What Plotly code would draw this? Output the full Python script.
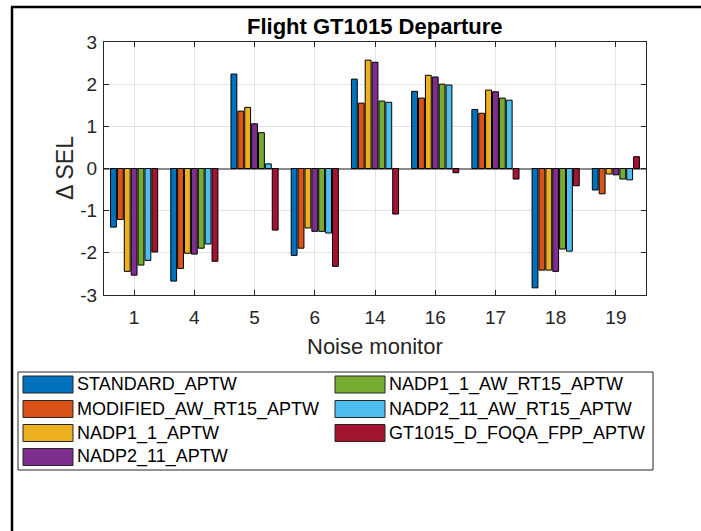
import plotly.graph_objects as go

# ---------------- data ----------------
monitors = ["1", "4", "5", "6", "14", "16", "17", "18", "19"]

series_names = [
    "STANDARD_APTW",
    "MODIFIED_AW_RT15_APTW",
    "NADP1_1_APTW",
    "NADP2_11_APTW",
    "NADP1_1_AW_RT15_APTW",
    "NADP2_11_AW_RT15_APTW",
    "GT1015_D_FOQA_FPP_APTW",
]
series_colors = ["#0072BD", "#D95319", "#EDB120", "#7E2F8E", "#77AC30", "#4DBEEE", "#A2142F"]

standard_aptw = [-1.39, -2.67, 2.24, -2.06, 2.12, 1.83, 1.40, -2.83, -0.51]
modified_aw_rt15_aptw = [-1.21, -2.37, 1.36, -1.89, 1.55, 1.67, 1.31, -2.41, -0.60]
nadp1_1_aptw = [-2.44, -2.01, 1.45, -1.41, 2.57, 2.21, 1.86, -2.41, -0.13]
nadp2_11_aptw = [-2.53, -2.03, 1.06, -1.49, 2.52, 2.17, 1.82, -2.44, -0.15]
nadp1_1_aw_rt15_aptw = [-2.29, -1.89, 0.85, -1.49, 1.60, 2.00, 1.67, -1.91, -0.25]
nadp2_11_aw_rt15_aptw = [-2.18, -1.79, 0.11, -1.53, 1.57, 1.98, 1.62, -1.96, -0.27]
gt1015_d_foqa_fpp_aptw = [-1.98, -2.20, -1.46, -2.32, -1.08, -0.10, -0.25, -0.41, 0.28]

series_values = [
    standard_aptw,
    modified_aw_rt15_aptw,
    nadp1_1_aptw,
    nadp2_11_aptw,
    nadp1_1_aw_rt15_aptw,
    nadp2_11_aw_rt15_aptw,
    gt1015_d_foqa_fpp_aptw,
]

y_ticks = [-3, -2, -1, 0, 1, 2, 3]

title_text = "Flight GT1015 Departure"
x_title = "Noise monitor"
y_title = "Δ SEL"

# ---------------- layout geometry (pixels) ----------------
W, H = 701, 531
PL, PR, PT, PB = 104, 646, 42, 295
FONT = "Liberation Sans, Arial, Helvetica, sans-serif"
AX = "#262626"


def px(x):
    return (x - PL) / (PR - PL)


def py(y):
    return (PB - y) / (PB - PT)


fig = go.Figure()
for name, color, vals in zip(series_names, series_colors, series_values):
    fig.add_trace(
        go.Bar(
            x=monitors,
            y=vals,
            name=name,
            marker=dict(color=color, line=dict(color="#000000", width=1)),
            showlegend=False,
        )
    )

fig.update_layout(
    width=W,
    height=H,
    margin=dict(l=PL, r=W - PR, t=PT, b=H - PB, pad=0),
    paper_bgcolor="white",
    plot_bgcolor="white",
    barmode="group",
    bargap=0.2,
    bargroupgap=0.15,
    font=dict(family=FONT, color=AX),
    showlegend=False,
)

fig.update_xaxes(
    type="category",
    range=[-0.5, len(monitors) - 0.5],
    showline=True,
    linecolor=AX,
    linewidth=1,
    mirror="ticks",
    ticks="inside",
    ticklen=5,
    tickcolor=AX,
    showgrid=True,
    gridcolor="#e3e3e3",
    gridwidth=1,
    tickfont=dict(size=19, color=AX, family=FONT),
    ticklabelstandoff=5,
)
fig.update_yaxes(
    range=[-3, 3],
    tickvals=y_ticks,
    ticktext=[str(v) for v in y_ticks],
    showline=True,
    linecolor=AX,
    linewidth=1,
    mirror="ticks",
    ticks="inside",
    ticklen=5,
    tickcolor=AX,
    showgrid=True,
    gridcolor="#e3e3e3",
    gridwidth=1,
    zeroline=True,
    zerolinecolor="#8a8a8a",
    zerolinewidth=1.5,
    tickfont=dict(size=19, color=AX, family=FONT),
    ticklabelstandoff=2,
)

annotations = []
shapes = []

# title
annotations.append(
    dict(
        text="<b>%s</b>" % title_text,
        xref="paper", yref="paper",
        x=0.5, y=py(27), xanchor="center", yanchor="middle",
        showarrow=False,
        font=dict(size=22, color="#000000", family=FONT),
    )
)
# axis titles
annotations.append(
    dict(
        text=x_title,
        xref="paper", yref="paper",
        x=0.5, y=py(346), xanchor="center", yanchor="middle",
        showarrow=False,
        font=dict(size=22, color=AX, family=FONT),
    )
)
annotations.append(
    dict(
        text=y_title,
        xref="paper", yref="paper",
        x=px(65), y=py(168), xanchor="center", yanchor="middle",
        textangle=-90,
        showarrow=False,
        font=dict(size=23, color=AX, family=FONT),
    )
)

# outer figure frame (left + top)
shapes.append(dict(type="line", xref="paper", yref="paper",
                   x0=px(12), x1=px(12), y0=py(7), y1=py(540),
                   line=dict(color="#000000", width=2.5)))
shapes.append(dict(type="line", xref="paper", yref="paper",
                   x0=px(11), x1=px(710), y0=py(7), y1=py(7),
                   line=dict(color="#000000", width=2.5)))

# legend box
shapes.append(dict(type="rect", xref="paper", yref="paper",
                   x0=px(18), x1=px(653), y0=py(372), y1=py(470),
                   line=dict(color="#262626", width=1), fillcolor="white"))

row_centers = [384.5, 409, 433, 457]
col_x = [23, 335]
rows_per_col = 4
for i, (name, color) in enumerate(zip(series_names, series_colors)):
    c = i // rows_per_col
    r = i % rows_per_col
    cy = row_centers[r]
    sx = col_x[c]
    shapes.append(dict(type="rect", xref="paper", yref="paper",
                       x0=px(sx), x1=px(sx + 50), y0=py(cy - 8.5), y1=py(cy + 8.5),
                       line=dict(color="#262626", width=1), fillcolor=color))
    annotations.append(dict(
        text=name, xref="paper", yref="paper",
        x=px(sx + 52), y=py(cy), xanchor="left", yanchor="middle",
        showarrow=False,
        font=dict(size=18, color="#000000", family=FONT),
    ))

fig.update_layout(annotations=annotations, shapes=shapes)

fig.write_html("out.html")
